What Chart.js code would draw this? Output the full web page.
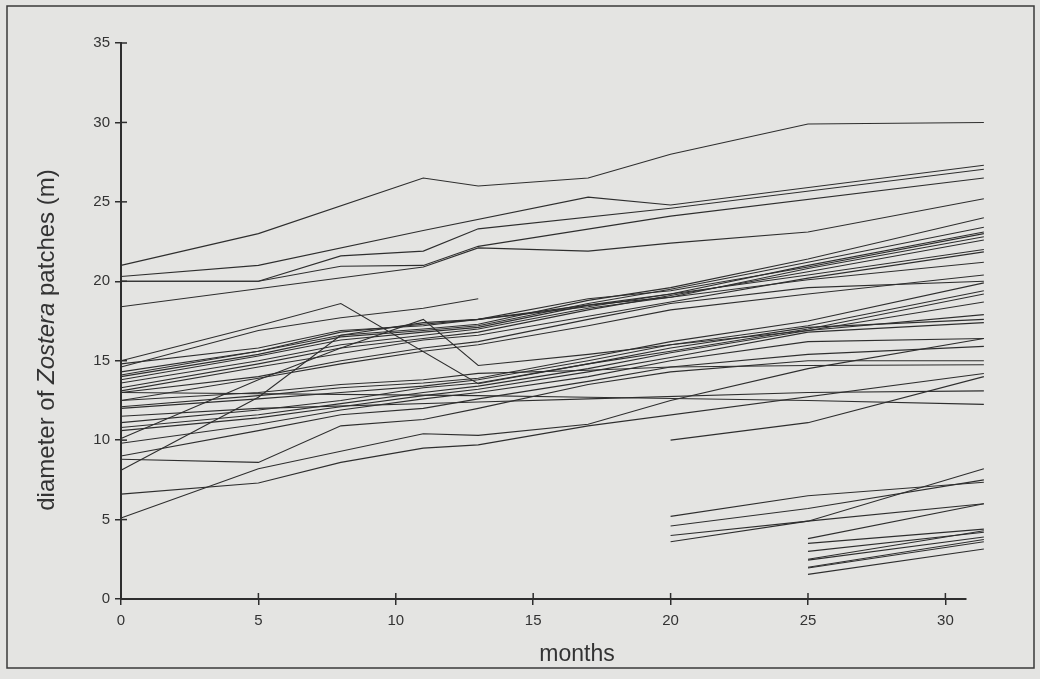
<!DOCTYPE html>
<html>
<head>
<meta charset="utf-8">
<script src="https://cdn.jsdelivr.net/npm/chart.js@4.4.1/dist/chart.umd.min.js"></script>
<style>
  html, body { margin: 0; padding: 0; background: #e4e4e2; }
  canvas { display: block; }
</style>
</head>
<body>
<canvas id="patch_chart" width="1040" height="679"></canvas>
<script>
// sampling times (months) and patch diameters (m); null = not measured
const months = [0, 5, 8, 11, 13, 17, 20, 25, 31.4];
const xTicks = [0, 5, 10, 15, 20, 25, 30];
const yTicks = [0, 5, 10, 15, 20, 25, 30, 35];

// large patches
const p01 = [21.0, 23.0, null, 26.5, 26.0, 26.5, 28.0, 29.9, 30.0];
const p02 = [20.3, 21.0, null, 23.2, null, 25.3, 24.8, null, 27.3];
const p03 = [20.0, 20.0, 21.6, 21.9, 23.3, null, 24.6, null, 27.05];
const p04 = [20.0, 20.0, 20.95, 21.0, 22.2, null, 24.1, null, 26.5];
const p05 = [18.4, null, null, 20.9, 22.1, 21.9, 22.4, 23.1, 25.2];

// upper bundle
const p06 = [14.1, 15.6, 16.6, 17.0, 17.3, 18.8, 19.6, 21.4, 24.0];
const p07 = [14.0, 15.4, 16.5, 16.9, 17.2, 18.6, 19.5, 21.2, 23.4];
const p08 = [13.8, 15.3, 16.3, 16.8, 17.1, 18.5, 19.2, 21.0, 23.1];
const p09 = [14.3, 15.6, 16.8, 17.3, 17.6, 18.9, 19.4, 20.9, 23.0];
const p10 = [13.6, 15.0, 16.0, 16.6, 17.0, 18.3, 19.0, 20.8, 22.8];
const p11 = [13.3, 14.8, 15.8, 16.4, 16.8, 18.2, 19.1, 20.6, 22.6];
const p12 = [13.1, 14.6, null, 16.3, 16.6, 17.8, 18.7, 20.2, 21.85];
const p13 = [14.8, 15.8, 16.9, 17.2, 17.6, 18.5, 19.0, 20.1, 21.2];
const p14 = [13.0, 14.0, 15.0, 15.8, 16.2, 17.6, 18.6, 19.6, 20.0];
const p15 = [12.5, 13.9, 14.8, 15.6, 16.0, 17.2, 18.2, 19.2, 20.4];
const p16 = [14.6, 16.9, 17.7, 18.3, 18.9, null, null, null, null];
const p17 = [15.0, 17.2, 18.6, null, 13.55, 14.8, 15.8, 17.1, 17.6];
const p18 = [10.1, 13.8, 15.8, 17.6, 14.7, 15.4, 16.0, 16.9, 17.9];

// lower bundle
const p19 = [12.1, 12.8, 13.3, 13.6, 13.9, 15.2, 16.2, 17.5, 19.9];
const p20 = [12.0, 12.6, 13.0, 13.4, 13.8, 15.0, 16.0, 17.2, 19.4];
const p21 = [11.1, 11.9, 12.5, 13.3, 13.6, 14.8, 15.6, 17.0, 19.2];
const p22 = [10.8, 11.6, 12.3, 13.0, 13.4, 14.5, 15.5, 16.9, 18.7];
const p23 = [10.6, 11.4, 12.1, 12.8, 13.2, 14.3, 15.2, 16.8, 17.4];
const p24 = [9.8, 11.0, 11.9, 12.6, 13.0, 14.0, 15.0, 16.2, 16.4];
const p25 = [9.0, 10.6, 11.6, 12.0, 12.6, 13.7, 14.6, 15.4, 15.9];
const p26 = [13.0, null, null, null, 12.8, 12.7, null, 12.5, 12.25];
const p27 = [11.5, 12.0, null, null, 12.4, 12.6, null, 13.0, 13.1];
const p28 = [12.5, 13.0, 13.5, 13.8, 14.2, 14.4, 14.6, 14.7, 14.75];
const p29 = [6.6, 7.3, 8.6, 9.5, 9.7, 10.9, null, null, 14.2];
const p30 = [5.1, 8.2, null, 10.4, 10.3, 11.0, 12.5, 14.5, 16.4];
const p31 = [8.8, 8.6, 10.9, 11.3, 12.0, 13.5, 14.3, 15.0, 15.0];
const p32 = [8.1, 12.7, 16.6, 17.4, 17.6, 18.4, 19.2, 20.4, 22.0];
const p33 = [null, null, null, null, null, null, 10.0, 11.1, 14.0];

// small patches found later
const p34 = [null, null, null, null, null, null, 5.2, 6.5, 7.35];
const p35 = [null, null, null, null, null, null, 4.6, 5.7, 7.5];
const p36 = [null, null, null, null, null, null, 4.0, 4.9, 8.2];
const p37 = [null, null, null, null, null, null, 3.6, 4.9, 6.0];
const p38 = [null, null, null, null, null, null, null, 3.8, 6.0];
const p39 = [null, null, null, null, null, null, null, 3.5, 4.4];
const p40 = [null, null, null, null, null, null, null, 3.0, 4.2];
const p41 = [null, null, null, null, null, null, null, 2.5, 4.3];
const p42 = [null, null, null, null, null, null, null, 2.45, 3.9];
const p43 = [null, null, null, null, null, null, null, 2.0, 3.75];
const p44 = [null, null, null, null, null, null, null, 1.95, 3.6];
const p45 = [null, null, null, null, null, null, null, 1.55, 3.15];

const patches = [p01, p02, p03, p04, p05, p06, p07, p08, p09, p10, p11, p12, p13, p14, p15,
    p16, p17, p18, p19, p20, p21, p22, p23, p24, p25, p26, p27, p28, p29, p30, p31, p32, p33,
    p34, p35, p36, p37, p38, p39, p40, p41, p42, p43, p44, p45];

const INK = '#2e2e2e';
const FONT = '"Liberation Sans", Arial, sans-serif';

function toPoints(values) {
    const pts = [];
    values.forEach(function(v, i) {
        if (v !== null) pts.push({ x: months[i], y: v });
    });
    return pts;
}

// background, frame and the two axis titles (y title has an italic genus name)
const paperPlugin = {
    id: 'paper',
    beforeDraw(chart) {
        const ctx = chart.ctx;
        ctx.save();
        ctx.fillStyle = '#e4e4e2';
        ctx.fillRect(0, 0, chart.width, chart.height);
        ctx.strokeStyle = '#3a3a3a';
        ctx.lineWidth = 1.5;
        ctx.strokeRect(7, 6, 1027, 662);
        ctx.restore();
    },
    afterDraw(chart) {
        const ctx = chart.ctx;
        const area = chart.chartArea;
        ctx.save();
        // inner half of the tick marks
        ctx.strokeStyle = INK;
        ctx.lineWidth = 1.5;
        chart.scales.x.ticks.forEach(function(t) {
            const px = chart.scales.x.getPixelForValue(t.value);
            ctx.beginPath(); ctx.moveTo(px, area.bottom); ctx.lineTo(px, area.bottom - 6); ctx.stroke();
        });
        chart.scales.y.ticks.forEach(function(t) {
            const py = chart.scales.y.getPixelForValue(t.value);
            ctx.beginPath(); ctx.moveTo(area.left, py); ctx.lineTo(area.left + 6, py); ctx.stroke();
        });

        ctx.fillStyle = '#333';
        ctx.textBaseline = 'middle';
        ctx.textAlign = 'center';
        ctx.font = '23px ' + FONT;
        ctx.fillText('months', 577, 655);

        const parts = [
            { text: 'diameter of ', font: '24px ' + FONT },
            { text: 'Zostera', font: 'italic 24px ' + FONT },
            { text: ' patches (m)', font: '24px ' + FONT }
        ];
        let total = 0;
        parts.forEach(function(p) { ctx.font = p.font; p.w = ctx.measureText(p.text).width; total += p.w; });
        ctx.translate(47, 340);
        ctx.rotate(-Math.PI / 2);
        ctx.textAlign = 'left';
        let x = -total / 2;
        parts.forEach(function(p) { ctx.font = p.font; ctx.fillText(p.text, x, 0); x += p.w; });
        ctx.restore();
    }
};

new Chart(document.getElementById('patch_chart'), {
    type: 'line',
    data: {
        datasets: patches.map(function(values, i) {
            return {
                label: 'patch ' + (i + 1),
                data: toPoints(values),
                borderColor: INK,
                borderWidth: 1.1,
                pointRadius: 0,
                tension: 0,
                fill: false,
                clip: false
            };
        })
    },
    options: {
        responsive: false,
        animation: false,
        devicePixelRatio: 1,
        layout: { padding: { top: 43, right: 74, left: 0, bottom: 0 } },
        plugins: {
            legend: { display: false },
            tooltip: { enabled: false }
        },
        scales: {
            x: {
                type: 'linear',
                min: 0,
                max: 30.75,
                afterBuildTicks: function(axis) {
                    axis.ticks = xTicks.map(function(v) { return { value: v }; });
                },
                afterFit: function(axis) { axis.height = 80; },
                ticks: { color: '#333', font: { family: FONT, size: 15 }, padding: 7, maxRotation: 0 },
                border: { color: INK, width: 2 },
                grid: { drawOnChartArea: false, tickLength: 6, color: INK, lineWidth: 1.5 }
            },
            y: {
                min: 0,
                max: 35,
                afterBuildTicks: function(axis) {
                    axis.ticks = yTicks.map(function(v) { return { value: v }; });
                },
                afterFit: function(axis) { axis.width = 121; },
                ticks: { color: '#333', font: { family: FONT, size: 15 }, padding: 5 },
                border: { color: INK, width: 2 },
                grid: { drawOnChartArea: false, tickLength: 6, color: INK, lineWidth: 1.5 }
            }
        }
    },
    plugins: [paperPlugin]
});
</script>
</body>
</html>
